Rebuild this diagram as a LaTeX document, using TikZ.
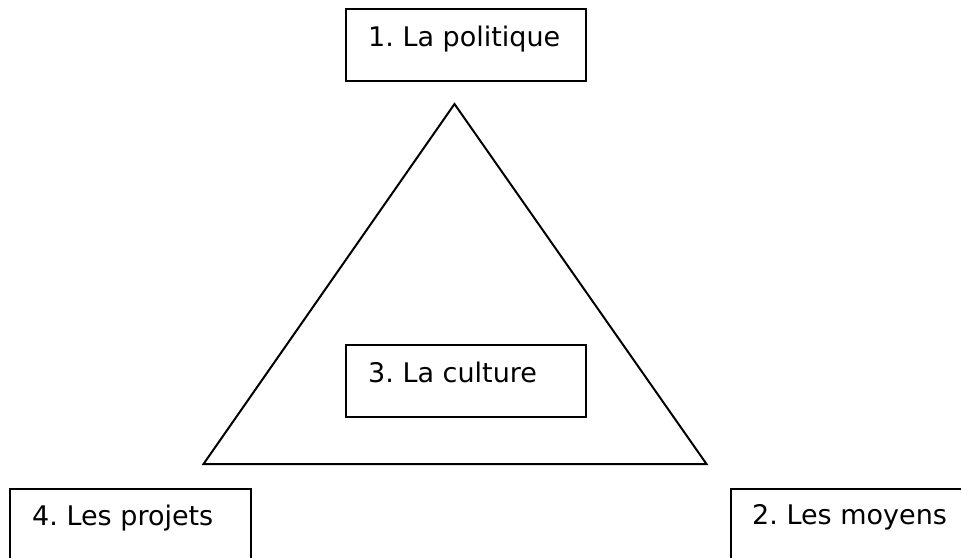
\documentclass[tikz,border=0pt]{standalone}
\usepackage{fontspec}
\setmainfont{DejaVu Sans}
\frenchspacing
\begin{document}
\begin{tikzpicture}[x=1pt,y=-1pt,
  box/.style={draw=black,line width=2pt,rectangle,inner sep=0pt},
  lbl/.style={anchor=base west,inner sep=0pt,font=\fontsize{27}{31}\selectfont},
  tri/.style={draw=black,line width=2pt,line join=miter}]
\useasboundingbox (0,0) rectangle (961,557);
\clip (0,0) rectangle (961,557);
% boxes
\node[box,minimum width=240pt,minimum height=72pt] (b1) at (466,45) {};
\node[box,minimum width=240pt,minimum height=72pt] (b3) at (466,381) {};
\node[box,minimum width=241pt,minimum height=72pt] (b4) at (130.5,525) {};
\node[box,minimum width=241pt,minimum height=72pt] (b2) at (851.5,525) {};
% labels
\node[lbl] (t1) at (368,46) {1. La politique};
\node[lbl] (t3) at (368,382) {3. La culture};
\node[lbl] (t4) at (32,525) {4. Les projets};
\node[lbl] (t2) at (752,524) {2. Les moyens};
% triangle
\coordinate (apex) at (454.5,104);
\coordinate (bl) at (203.5,464);
\coordinate (br) at (706.5,464);
\draw[tri] (apex) -- (bl) -- (br) -- cycle;
\end{tikzpicture}
\end{document}
